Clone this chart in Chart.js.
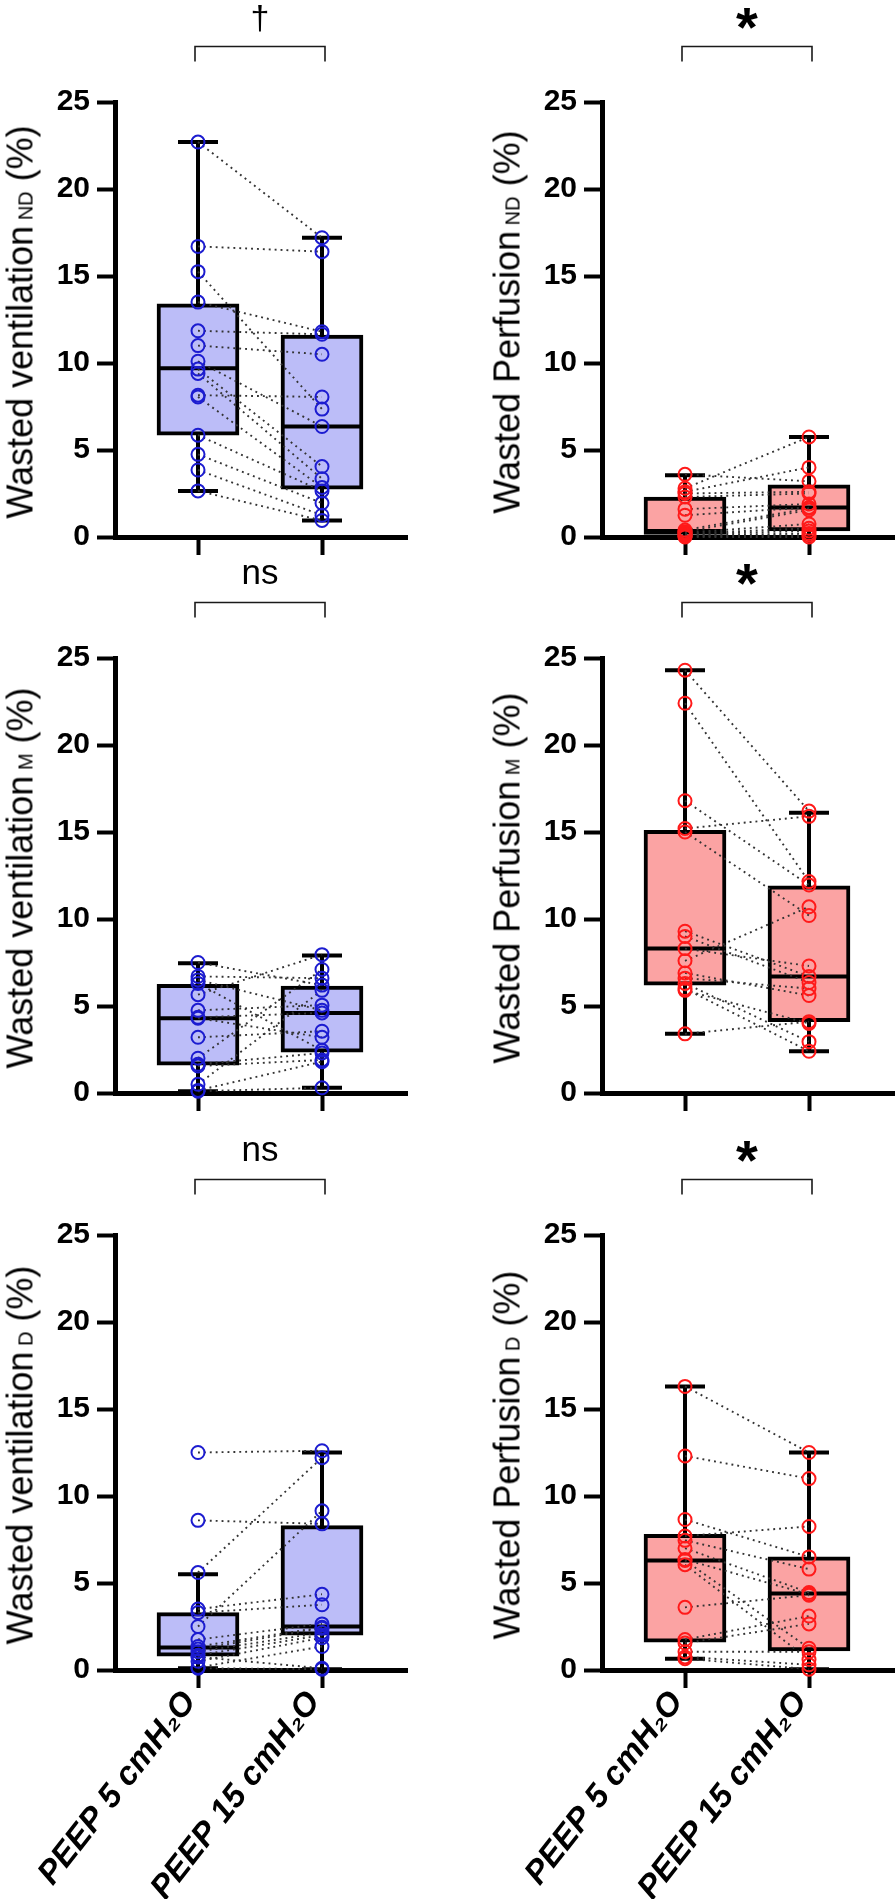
<!DOCTYPE html>
<html>
<head>
<meta charset="utf-8">
<script src="https://cdn.jsdelivr.net/npm/chart.js@4.4.0/dist/chart.umd.min.js"></script>
<style>
  html, body { margin: 0; padding: 0; background: #fff; }
  #fig { position: relative; width: 896px; height: 1899px; overflow: hidden; }
  #fig canvas { position: absolute; }
  .ytitle {
    position: absolute;
    white-space: nowrap;
    font: 36px "Liberation Sans", Arial, sans-serif;
    line-height: 36px;
    color: #000;
    transform: translate(-50%, -50%) rotate(-90deg);
  }
  .ytitle span { font-size: 20px; }
</style>
</head>
<body>
<div id="fig"></div>
<script>
// wasted ventilation / perfusion per region, PEEP 5 vs PEEP 15 (paired)

const categories = ['PEEP 5 cmH\u2082O', 'PEEP 15 cmH\u2082O'];
const yTicks = [0, 5, 10, 15, 20, 25];

// box arrays: min, q1, median, q3, max
const ventNdPeep5 = [22.7, 16.7, 15.25, 13.5, 11.85, 11.0, 10.1, 9.65, 9.4, 8.15, 8.05, 5.85, 4.75, 3.85, 2.65];
const ventNdPeep15 = [17.2, 16.4, 7.35, 11.8, 11.65, 10.5, 6.35, 4.05, 3.35, 8.05, 2.85, 2.65, 1.95, 1.25, 0.95];
const ventNdBox5 = [2.65, 5.85, 9.7, 13.4, 22.7];
const ventNdBox15 = [0.95, 2.75, 6.35, 11.6, 17.2];

const perfNdPeep5 = [3.6, 2.8, 2.6, 2.5, 2.3, 1.6, 1.25, 0.4, 0.3, 0.25, 0.2, 0.15, 0.1, 0.05, 0];
const perfNdPeep15 = [3.2, 5.75, 4.0, 2.6, 2.5, 1.9, 1.7, 1.65, 1.55, 0.75, 0.5, 0.35, 0.2, 0.1, 0];
const perfNdBox5 = [0, 0.15, 0.35, 2.3, 3.55];
const perfNdBox15 = [0, 0.35, 1.7, 3.0, 5.75];

const ventMPeep5 = [7.5, 6.7, 6.5, 6.3, 5.65, 4.75, 4.35, 4.3, 3.2, 2.0, 1.65, 1.55, 0.5, 0.15, 0.1];
const ventMPeep15 = [6.2, 6.6, 4.75, 2.45, 7.95, 5.05, 4.6, 3.2, 3.55, 7.1, 2.3, 1.9, 5.9, 1.8, 0.3];
const ventMBox5 = [0.1, 1.6, 4.3, 6.25, 7.45];
const ventMBox15 = [0.3, 2.35, 4.6, 6.15, 7.9];

const perfMPeep5 = [24.3, 22.4, 16.8, 15.2, 15.0, 9.3, 9.0, 8.3, 7.6, 6.9, 6.6, 6.3, 6.0, 5.9, 3.4];
const perfMPeep15 = [16.2, 12.15, 11.95, 15.9, 10.2, 6.7, 6.35, 7.3, 10.7, 5.6, 6.0, 2.95, 2.4, 4.0, 4.1];
const perfMBox5 = [3.4, 6.2, 8.3, 15.1, 24.3];
const perfMBox15 = [2.4, 4.1, 6.7, 11.9, 16.1];

const ventDPeep5 = [12.5, 8.6, 5.6, 3.5, 3.3, 2.5, 1.75, 1.35, 1.2, 1.05, 0.85, 0.75, 0.5, 0.15, 0.1];
const ventDPeep15 = [12.6, 8.4, 12.2, 4.35, 3.75, 9.15, 2.65, 2.45, 2.4, 2.15, 2.0, 0.1, 1.85, 1.35, 0.05];
const ventDBox5 = [0.1, 0.8, 1.3, 3.3, 5.5];
const ventDBox15 = [0.05, 2.0, 2.5, 8.3, 12.5];

const perfDPeep5 = [16.3, 12.3, 8.65, 7.7, 7.45, 7.0, 6.35, 6.3, 6.05, 3.6, 1.75, 1.55, 1.05, 0.75, 0.65];
const perfDPeep15 = [12.5, 11.0, 6.5, 8.25, 5.8, 4.45, 4.35, 1.25, 0.6, 4.3, 3.1, 2.65, 1.05, 0.3, 0.05];
const perfDBox5 = [0.65, 1.6, 6.3, 7.8, 16.3];
const perfDBox15 = [0.05, 1.1, 4.4, 6.5, 12.5];

const panels = [
  { title: 'Wasted ventilation', sub: 'ND', sig: '\u2020', p5: ventNdPeep5, p15: ventNdPeep15, box5: ventNdBox5, box15: ventNdBox15, color: 'blue', col: 0, row: 0 },
  { title: 'Wasted Perfusion', sub: 'ND', sig: '*', p5: perfNdPeep5, p15: perfNdPeep15, box5: perfNdBox5, box15: perfNdBox15, color: 'red', col: 1, row: 0 },
  { title: 'Wasted ventilation', sub: 'M', sig: 'ns', p5: ventMPeep5, p15: ventMPeep15, box5: ventMBox5, box15: ventMBox15, color: 'blue', col: 0, row: 1 },
  { title: 'Wasted Perfusion', sub: 'M', sig: '*', p5: perfMPeep5, p15: perfMPeep15, box5: perfMBox5, box15: perfMBox15, color: 'red', col: 1, row: 1 },
  { title: 'Wasted ventilation', sub: 'D', sig: 'ns', p5: ventDPeep5, p15: ventDPeep15, box5: ventDBox5, box15: ventDBox15, color: 'blue', col: 0, row: 2 },
  { title: 'Wasted Perfusion', sub: 'D', sig: '*', p5: perfDPeep5, p15: perfDPeep15, box5: perfDBox5, box15: perfDBox15, color: 'red', col: 1, row: 2 }
];

const styles = {
  blue: { fill: '#bcbdf8', point: '#1c1cd0' },
  red: { fill: '#fba3a3', point: '#ff1a1a' }
};
const family = '"Liberation Sans", Arial, sans-serif';
const sigFonts = {
  '\u2020': 'normal 34px ' + family,
  '*': 'bold 56px ' + family,
  'ns': 'normal 35px ' + family
};

// layout (px)
const colLeft = [0, 487];
const rowTop = [2, 558, 1135];
const canvasW = 408;
const padTop = 100;
const plotH = 435;
const yAxisW = 115;
const xMin = 1 - 83 / 124;
const xMax = xMin + (canvasW - yAxisW) / 124;

const fig = document.getElementById('fig');

const sigBracket = {
  id: 'sigBracket',
  afterDraw(chart, args, opts) {
    const { ctx, chartArea } = chart;
    const x = chart.scales.x;
    const x1 = x.getPixelForValue(1) - 3;
    const x2 = x.getPixelForValue(2) + 3;
    const yTop = chartArea.top - 55.5;
    const yLeg = chartArea.top - 40.5;
    ctx.save();
    ctx.strokeStyle = '#1a1a1a';
    ctx.lineWidth = 1.6;
    ctx.beginPath();
    ctx.moveTo(x1, yLeg);
    ctx.lineTo(x1, yTop);
    ctx.lineTo(x2, yTop);
    ctx.lineTo(x2, yLeg);
    ctx.stroke();
    ctx.font = opts.font;
    ctx.fillStyle = '#000';
    ctx.textAlign = 'center';
    ctx.textBaseline = 'alphabetic';
    const m = ctx.measureText(opts.text);
    const cy = chartArea.top - 84;
    ctx.fillText(opts.text, (x1 + x2) / 2, cy + (m.actualBoundingBoxAscent - m.actualBoundingBoxDescent) / 2);
    ctx.restore();
  }
};

function makePanel(p) {
  const last = p.row === 2;
  const h = last ? 1899 - rowTop[2] : 560;
  const canvas = document.createElement('canvas');
  canvas.width = canvasW;
  canvas.height = h;
  canvas.style.left = colLeft[p.col] + 'px';
  canvas.style.top = rowTop[p.row] + 'px';
  canvas.style.width = canvasW + 'px';
  canvas.style.height = h + 'px';
  fig.appendChild(canvas);

  const title = document.createElement('div');
  title.className = 'ytitle';
  title.innerHTML = p.title + '<span> ' + p.sub + '</span> (%)';
  title.style.left = (colLeft[p.col] + 22.5) + 'px';
  title.style.top = (rowTop[p.row] + padTop + plotH / 2 + 2) + 'px';
  fig.appendChild(title);

  const st = styles[p.color];
  const boxes = [p.box5, p.box15];
  const datasets = [];

  boxes.forEach((b, i) => {
    datasets.push({
      type: 'line',
      data: [{ x: i + 1, y: b[0] }, { x: i + 1, y: b[4] }],
      borderColor: '#000', borderWidth: 4, pointRadius: 0, clip: false, order: 6
    });
  });
  datasets.push({
    type: 'bar',
    data: boxes.map((b, i) => ({ x: i + 1, y: [b[1], b[3]] })),
    backgroundColor: st.fill, borderColor: '#000', borderWidth: 4,
    borderSkipped: false, barThickness: 82, clip: false, order: 5
  });
  datasets.push({
    type: 'scatter',
    data: boxes.flatMap((b, i) => [{ x: i + 1, y: b[0] }, { x: i + 1, y: b[4] }]),
    pointStyle: 'line', pointRadius: 20, pointBorderWidth: 4, pointBorderColor: '#000',
    clip: false, order: 4
  });
  datasets.push({
    type: 'scatter',
    data: boxes.map((b, i) => ({ x: i + 1, y: b[2] })),
    pointStyle: 'line', pointRadius: 41, pointBorderWidth: 4, pointBorderColor: '#000',
    clip: false, order: 4
  });
  p.p5.forEach((v, i) => {
    datasets.push({
      type: 'line',
      data: [{ x: 1, y: v }, { x: 2, y: p.p15[i] }],
      borderColor: '#333', borderWidth: 1.9, borderDash: [1.9, 4],
      pointRadius: 0, clip: false, order: 3
    });
  });
  datasets.push({
    type: 'scatter',
    data: p.p5.map(v => ({ x: 1, y: v })).concat(p.p15.map(v => ({ x: 2, y: v }))),
    pointStyle: 'circle', pointRadius: 6.5, pointBorderWidth: 2,
    pointBorderColor: st.point, pointBackgroundColor: 'rgba(0,0,0,0)',
    clip: false, order: 1
  });

  new Chart(canvas, {
    type: 'scatter',
    data: { datasets },
    options: {
      responsive: false,
      animation: false,
      devicePixelRatio: 1,
      layout: { autoPadding: false, padding: { top: padTop, left: 0, right: 0, bottom: 0 } },
      plugins: {
        legend: { display: false },
        tooltip: { enabled: false },
        sigBracket: { text: p.sig, font: sigFonts[p.sig] }
      },
      scales: {
        x: {
          type: 'linear',
          min: xMin,
          max: xMax,
          offset: false,
          afterBuildTicks: s => { s.ticks = [{ value: 1 }, { value: 2 }]; },
          afterFit: s => {
            s.height = h - padTop - plotH;
            s.paddingLeft = 0;
            s.paddingRight = 0;
          },
          ticks: {
            display: last,
            autoSkip: false,
            minRotation: 52,
            maxRotation: 52,
            padding: -4,
            labelOffset: -8,
            color: '#000',
            font: { family, size: 33, weight: 'bold', style: 'italic' },
            callback: v => categories[v - 1]
          },
          grid: { offset: false, drawOnChartArea: false, tickLength: 18, tickWidth: 4, tickColor: '#000' },
          border: { color: '#000', width: 5 }
        },
        y: {
          min: 0,
          max: 25,
          afterBuildTicks: s => { s.ticks = yTicks.map(v => ({ value: v })); },
          afterFit: s => {
            s.width = yAxisW;
            s.paddingTop = 0;
            s.paddingBottom = 0;
          },
          ticks: {
            padding: 7,
            color: '#000',
            font: { family, size: 30, weight: 'bold' }
          },
          grid: { drawOnChartArea: false, tickLength: 18, tickWidth: 4, tickColor: '#000' },
          border: { color: '#000', width: 5 }
        }
      }
    },
    plugins: [sigBracket]
  });
}

panels.forEach(makePanel);
</script>
</body>
</html>
